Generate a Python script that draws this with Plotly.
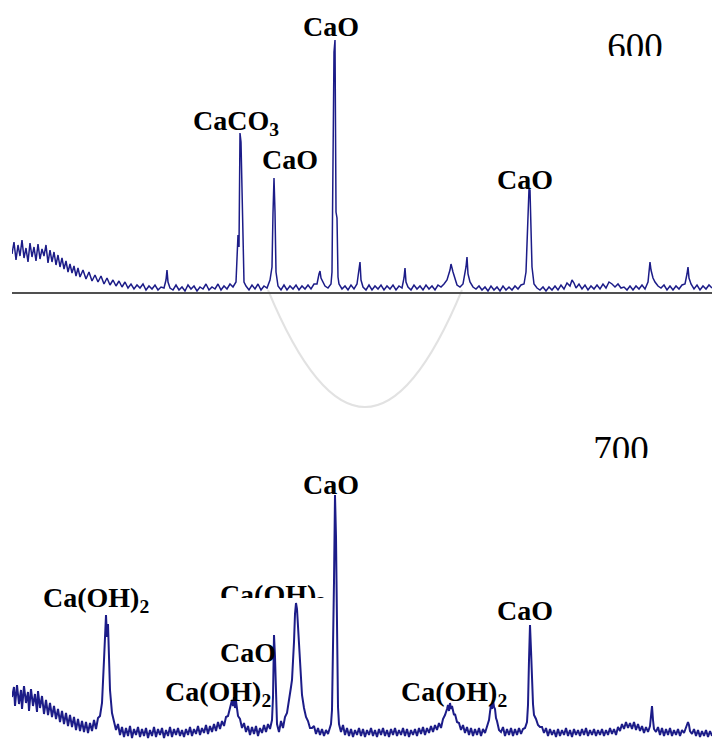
import plotly.graph_objects as go

# ---------------- data (2-theta in degrees, intensity in arbitrary counts) ----------------
TOP_2THETA = [10.0, 10.2, 10.4, 10.6, 10.8, 11.0, 11.2, 11.4, 11.6, 11.8, 12.0, 12.2, 12.4, 12.6, 12.8,
              13.0, 13.2, 13.4, 13.6, 13.8, 14.0, 14.2, 14.4, 14.6, 14.8, 15.0, 15.2, 15.4, 15.6, 15.8,
              16.0, 16.2, 16.4, 16.6, 16.8, 17.1, 17.4, 17.7, 18.0, 18.3, 18.6, 18.9, 19.2, 19.5, 19.8,
              20.1, 20.4, 20.7, 21.0, 21.3, 21.6, 21.9, 22.2, 22.5, 22.8, 23.1, 23.4, 23.7, 24.0, 24.3,
              24.6, 24.9, 25.2, 25.4, 25.5, 25.6, 25.8, 26.1, 26.4, 26.7, 27.0, 27.3, 27.6, 27.9, 28.2,
              28.5, 28.8, 29.1, 29.4, 29.7, 30.0, 30.3, 30.6, 30.9, 31.2, 31.5, 31.8, 32.1, 32.4, 32.6,
              32.7, 32.8, 32.9, 33.0, 33.1, 33.2, 33.4, 33.7, 34.0, 34.3, 34.6, 34.9, 35.2, 35.5, 35.8,
              36.0, 36.1, 36.2, 36.3, 36.4, 36.6, 36.9, 37.2, 37.5, 37.8, 38.1, 38.4, 38.7, 39.0, 39.3,
              39.6, 39.9, 40.2, 40.5, 40.7, 40.8, 40.9, 41.1, 41.3, 41.6, 41.9, 42.0, 42.1, 42.2, 42.3,
              42.4, 42.5, 42.6, 42.7, 43.0, 43.3, 43.6, 43.9, 44.2, 44.5, 44.7, 44.8, 44.9, 45.1, 45.4,
              45.7, 46.0, 46.3, 46.6, 46.9, 47.2, 47.5, 47.8, 48.1, 48.4, 48.7, 49.0, 49.2, 49.3, 49.4,
              49.6, 49.9, 50.2, 50.5, 50.8, 51.1, 51.4, 51.7, 52.0, 52.3, 52.6, 52.9, 53.2, 53.5, 53.8,
              53.9, 54.1, 54.3, 54.5, 54.8, 55.1, 55.4, 55.5, 55.6, 55.8, 56.1, 56.4, 56.7, 57.0, 57.3,
              57.6, 57.9, 58.2, 58.5, 58.8, 59.1, 59.4, 59.7, 60.0, 60.3, 60.6, 60.9, 61.2, 61.4, 61.6,
              61.7, 61.8, 61.9, 62.0, 62.2, 62.5, 62.8, 63.1, 63.4, 63.7, 64.0, 64.3, 64.6, 64.9, 65.2,
              65.5, 65.8, 66.0, 66.2, 66.4, 66.7, 67.0, 67.3, 67.6, 67.9, 68.2, 68.5, 68.8, 69.1, 69.4,
              69.7, 70.0, 70.3, 70.6, 70.9, 71.2, 71.5, 71.8, 72.1, 72.4, 72.7, 73.0, 73.3, 73.6, 73.8,
              73.9, 74.1, 74.3, 74.6, 74.9, 75.2, 75.5, 75.8, 76.1, 76.4, 76.7, 77.0, 77.3, 77.5, 77.6,
              77.7, 77.9, 78.2, 78.5, 78.8, 79.1, 79.4, 79.7, 80.0]
TOP_INT = [38, 50, 32, 47, 36, 52, 34, 44, 30, 49, 35, 45, 31, 48, 33,
           43, 36, 47, 29, 42, 30, 40, 27, 37, 25, 34, 23, 31, 20, 28,
           19, 26, 16, 24, 15, 22, 13, 20, 11, 17, 10, 16, 8, 14, 7,
           12, 6, 11, 5, 10, 4, 8, 3, 7, 4, 8, 2, 6, 3, 7,
           2, 5, 4, 12, 22, 10, 4, 2, 7, 2, 5, 1, 7, 3, 6,
           1, 5, 3, 8, 2, 5, 3, 8, 2, 6, 3, 8, 5, 10, 57,
           45, 159, 150, 104, 30, 10, 6, 2, 7, 3, 8, 2, 6, 4, 12,
           25, 79, 114, 80, 20, 6, 2, 7, 2, 6, 3, 7, 2, 6, 3,
           7, 3, 8, 8, 18, 21, 14, 10, 6, 4, 8, 20, 175, 240, 252,
           80, 74, 15, 8, 3, 6, 2, 7, 3, 8, 20, 30, 12, 5, 2,
           7, 2, 6, 3, 7, 2, 6, 3, 7, 2, 6, 4, 14, 24, 10,
           5, 2, 7, 3, 6, 2, 7, 3, 6, 2, 7, 5, 8, 12, 22,
           28, 20, 12, 7, 5, 8, 25, 35, 18, 10, 5, 3, 6, 2, 5,
           1, 6, 2, 5, 1, 6, 2, 5, 2, 6, 3, 7, 8, 20, 80,
           103, 102, 66, 25, 8, 4, 2, 5, 1, 5, 2, 6, 2, 7, 3,
           9, 6, 12, 9, 4, 8, 3, 7, 2, 6, 3, 7, 3, 8, 4,
           10, 8, 5, 8, 4, 5, 2, 6, 2, 6, 3, 7, 3, 10, 30,
           22, 14, 10, 6, 4, 7, 2, 6, 2, 6, 3, 7, 8, 18, 25,
           14, 8, 3, 7, 2, 6, 3, 7, 4]

BOT_2THETA = [10.0, 10.2, 10.3, 10.5, 10.7, 10.9, 11.0, 11.2, 11.4, 11.6, 11.7, 11.9, 12.1, 12.3, 12.5,
              12.6, 12.8, 13.0, 13.2, 13.4, 13.6, 13.8, 14.0, 14.2, 14.4, 14.6, 14.8, 15.0, 15.2, 15.4,
              15.6, 15.8, 16.0, 16.2, 16.4, 16.6, 16.8, 17.0, 17.2, 17.4, 17.6, 17.8, 18.0, 18.2, 18.4,
              18.6, 18.8, 19.0, 19.2, 19.3, 19.4, 19.5, 19.6, 19.7, 19.8, 20.0, 20.2, 20.4, 20.6, 20.8,
              21.0, 21.2, 21.4, 21.6, 21.8, 22.0, 22.2, 22.4, 22.6, 22.8, 23.0, 23.2, 23.4, 23.6, 23.8,
              24.0, 24.2, 24.4, 24.6, 24.8, 25.0, 25.2, 25.4, 25.6, 25.8, 26.0, 26.2, 26.4, 26.6, 26.8,
              27.0, 27.2, 27.4, 27.6, 27.8, 28.0, 28.2, 28.4, 28.6, 28.8, 29.0, 29.2, 29.4, 29.6, 29.8,
              30.0, 30.2, 30.4, 30.6, 30.8, 31.0, 31.2, 31.4, 31.6, 31.8, 32.0, 32.1, 32.2, 32.3, 32.4,
              32.6, 32.8, 33.0, 33.2, 33.4, 33.6, 33.8, 34.0, 34.2, 34.4, 34.6, 34.8, 35.0, 35.2, 35.4,
              35.6, 35.8, 36.0, 36.1, 36.2, 36.3, 36.4, 36.5, 36.7, 36.9, 37.1, 37.3, 37.5, 37.7, 37.9,
              38.0, 38.1, 38.2, 38.3, 38.4, 38.5, 38.6, 38.7, 38.8, 38.9, 39.0, 39.2, 39.4, 39.6, 39.8,
              40.0, 40.2, 40.4, 40.6, 40.8, 41.0, 41.2, 41.4, 41.6, 41.8, 41.9, 42.0, 42.1, 42.2, 42.3,
              42.4, 42.5, 42.6, 42.7, 42.9, 43.1, 43.3, 43.5, 43.7, 43.9, 44.1, 44.3, 44.5, 44.7, 44.9,
              45.1, 45.3, 45.5, 45.7, 45.9, 46.1, 46.3, 46.5, 46.7, 46.9, 47.1, 47.3, 47.5, 47.7, 47.9,
              48.1, 48.3, 48.5, 48.7, 48.9, 49.1, 49.3, 49.5, 49.7, 49.9, 50.1, 50.3, 50.5, 50.7, 50.9,
              51.1, 51.3, 51.5, 51.7, 51.9, 52.1, 52.3, 52.5, 52.7, 52.9, 53.1, 53.3, 53.5, 53.6, 53.7,
              53.8, 53.9, 54.0, 54.2, 54.3, 54.5, 54.7, 54.9, 55.1, 55.3, 55.5, 55.7, 55.9, 56.1, 56.3,
              56.5, 56.7, 56.9, 57.1, 57.3, 57.5, 57.7, 57.8, 57.9, 58.0, 58.1, 58.2, 58.3, 58.4, 58.5,
              58.7, 58.9, 59.1, 59.3, 59.5, 59.7, 59.9, 60.1, 60.3, 60.5, 60.7, 60.9, 61.1, 61.3, 61.5,
              61.6, 61.7, 61.8, 61.9, 62.0, 62.1, 62.2, 62.4, 62.6, 62.8, 63.0, 63.2, 63.4, 63.6, 63.8,
              64.0, 64.2, 64.4, 64.6, 64.8, 65.0, 65.2, 65.4, 65.6, 65.8, 66.0, 66.2, 66.4, 66.6, 66.8,
              67.0, 67.2, 67.4, 67.6, 67.8, 68.0, 68.2, 68.4, 68.6, 68.8, 69.0, 69.2, 69.4, 69.6, 69.8,
              70.0, 70.2, 70.4, 70.6, 70.8, 71.0, 71.2, 71.4, 71.6, 71.8, 72.0, 72.2, 72.4, 72.6, 72.8,
              73.0, 73.2, 73.4, 73.6, 73.8, 73.9, 74.0, 74.1, 74.2, 74.4, 74.6, 74.8, 75.0, 75.2, 75.4,
              75.6, 75.8, 76.0, 76.2, 76.4, 76.6, 76.8, 77.0, 77.2, 77.4, 77.6, 77.7, 77.8, 78.0, 78.2,
              78.4, 78.6, 78.8, 79.0, 79.2, 79.4, 79.6, 79.8, 80.0]
BOT_INT = [45, 55, 36, 57, 38, 52, 33, 56, 39, 50, 31, 53, 36, 48, 30,
           51, 34, 46, 28, 42, 27, 39, 25, 36, 23, 33, 20, 31, 18, 29,
           16, 27, 15, 25, 12, 23, 11, 21, 10, 20, 9, 19, 11, 22, 13,
           24, 26, 39, 82, 110, 127, 105, 118, 85, 52, 29, 20, 12, 18, 7,
           15, 5, 14, 6, 16, 4, 13, 7, 15, 5, 13, 6, 14, 4, 12,
           6, 15, 5, 13, 7, 14, 4, 12, 6, 15, 5, 13, 7, 14, 6,
           12, 5, 13, 7, 15, 6, 13, 8, 16, 7, 14, 9, 17, 8, 16,
           10, 18, 11, 20, 13, 21, 16, 25, 26, 34, 42, 36, 45, 34, 41,
           26, 23, 14, 19, 10, 16, 7, 15, 8, 16, 6, 14, 9, 17, 10,
           18, 13, 22, 45, 107, 85, 35, 18, 10, 21, 14, 25, 29, 40, 55,
           62, 79, 100, 128, 139, 133, 118, 102, 85, 62, 47, 34, 25, 21, 14,
           14, 16, 8, 14, 7, 13, 6, 12, 8, 15, 18, 32, 79, 160, 247,
           205, 119, 35, 18, 10, 17, 7, 14, 6, 13, 5, 12, 7, 14, 6,
           13, 5, 12, 7, 14, 6, 12, 5, 13, 7, 14, 6, 12, 5, 13,
           7, 14, 6, 12, 7, 14, 6, 13, 5, 12, 7, 13, 6, 14, 8,
           15, 7, 14, 9, 16, 10, 17, 12, 19, 14, 23, 27, 33, 37, 31,
           39, 33, 36, 27, 28, 20, 19, 12, 17, 9, 15, 7, 14, 6, 13,
           7, 14, 6, 13, 9, 15, 22, 30, 37, 33, 42, 35, 33, 24, 21,
           12, 10, 15, 6, 13, 7, 14, 6, 13, 7, 14, 8, 13, 14, 20,
           37, 82, 117, 92, 52, 38, 27, 23, 17, 15, 15, 9, 14, 6, 13,
           7, 12, 5, 13, 6, 12, 7, 14, 6, 12, 5, 13, 7, 12, 6,
           13, 7, 14, 6, 12, 7, 13, 6, 12, 7, 13, 6, 12, 7, 14,
           8, 13, 7, 15, 11, 18, 13, 20, 14, 19, 13, 20, 12, 18, 11,
           16, 9, 15, 10, 16, 30, 36, 22, 13, 10, 15, 7, 14, 6, 13,
           7, 14, 6, 12, 7, 13, 6, 12, 9, 15, 20, 17, 11, 8, 13,
           6, 12, 5, 11, 6, 12, 5, 11, 6]

TOP_LABELS = ["CaO", "CaCO<sub>3</sub>", "CaO", "CaO"]
BOT_LABELS = ["CaO", "Ca(OH)<sub>2</sub>", "CaO", "Ca(OH)<sub>2</sub>", "Ca(OH)<sub>2</sub>", "CaO"]
CUT_LABEL = "Ca(OH)<sub>2</sub>"
TEMPS = ["600", "700"]

# ---------------- layout helpers (pixel -> paper) ----------------
W, H = 712, 744
def pxx(x):
    return x / W
def pxy(y):
    return 1 - y / H

LINE = "#1c1c88"
SERIF = "Liberation Serif"

fig = go.Figure()
fig.add_trace(go.Scatter(x=TOP_2THETA, y=TOP_INT, mode="lines", xaxis="x", yaxis="y",
                         line=dict(color=LINE, width=1.5), hoverinfo="skip", showlegend=False))
fig.add_trace(go.Scatter(x=BOT_2THETA, y=BOT_INT, mode="lines", xaxis="x2", yaxis="y2",
                         line=dict(color=LINE, width=2.0), hoverinfo="skip", showlegend=False))

# clipped texts (clipped by their own small subplot areas)
fig.add_trace(go.Scatter(x=[72.3], y=[49.5], mode="text", text=[TEMPS[0]], xaxis="x", yaxis="y3",
                         textfont=dict(family=SERIF, size=37, color="black"), cliponaxis=True,
                         hoverinfo="skip", showlegend=False))
fig.add_trace(go.Scatter(x=[70.9], y=[452.5], mode="text", text=[TEMPS[1]], xaxis="x", yaxis="y4",
                         textfont=dict(family=SERIF, size=37, color="black"), cliponaxis=True,
                         hoverinfo="skip", showlegend=False))
fig.add_trace(go.Scatter(x=[36.1], y=[597], mode="text", text=[CUT_LABEL], xaxis="x2", yaxis="y5",
                         textfont=dict(family=SERIF, size=28, color="black", weight="bold"), cliponaxis=True,
                         hoverinfo="skip", showlegend=False))

ann_pos_top = [(331, 27), (236, 123), (290, 159), (525, 179)]
ann_pos_bot = [(331, 484), (96, 599), (248, 652), (218, 693), (454, 693), (525, 610)]
annotations = []
for txt, (ax_, ay_) in list(zip(TOP_LABELS, ann_pos_top)) + list(zip(BOT_LABELS, ann_pos_bot)):
    annotations.append(dict(text=txt, x=pxx(ax_), y=pxy(ay_), xref="paper", yref="paper",
                            xanchor="center", yanchor="middle", showarrow=False,
                            font=dict(family=SERIF, size=28, color="black", weight="bold")))

shapes = [dict(type="path", xref="paper", yref="paper",
               path=f"M {pxx(268)},{pxy(290)} Q {pxx(365)},{pxy(524)} {pxx(462)},{pxy(290)}",
               line=dict(color="#e2e2e2", width=2), layer="below")]

hidden = dict(visible=False, showgrid=False, zeroline=False)
fig.update_layout(
    width=W, height=H, margin=dict(l=0, r=0, t=0, b=0),
    paper_bgcolor="white", plot_bgcolor="rgba(0,0,0,0)",
    showlegend=False,
    xaxis=dict(domain=[pxx(12), 1], range=[10, 80], anchor="y", showline=True, linecolor="#505050",
               linewidth=1.5, showgrid=False, zeroline=False, showticklabels=False, ticks=""),
    yaxis=dict(domain=[pxy(292), 1], range=[0, 292], anchor="x", **hidden),
    xaxis2=dict(domain=[pxx(12), 1], range=[10, 80], anchor="y2", **hidden),
    yaxis2=dict(domain=[pxy(742), pxy(420)], range=[0, 322], anchor="x2", **hidden),
    yaxis3=dict(domain=[pxy(56), pxy(20)], range=[56, 20], anchor="x", **hidden),
    yaxis4=dict(domain=[pxy(458), pxy(420)], range=[458, 420], anchor="x", **hidden),
    yaxis5=dict(domain=[pxy(598), pxy(560)], range=[598, 560], anchor="x2", **hidden),
    annotations=annotations,
    shapes=shapes,
)

fig.write_html("out.html")
